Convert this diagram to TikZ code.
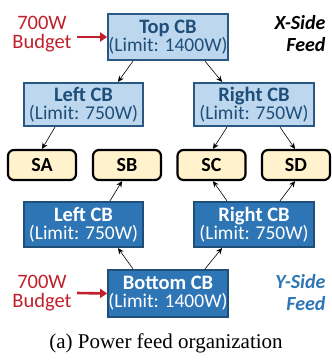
\documentclass[tikz,border=0pt]{standalone}
\usepackage{fontspec}
\setmainfont{Carlito}
\newfontfamily\capfont{Liberation Serif}
\usetikzlibrary{arrows.meta}
\definecolor{lightfill}{HTML}{BDD7EE}
\definecolor{cbborder}{HTML}{2B5783}
\definecolor{darkblue}{HTML}{1F4E79}
\definecolor{midblue}{HTML}{2E75B6}
\definecolor{budgetred}{HTML}{C0202A}
\definecolor{srvfill}{HTML}{FFF2CC}
\tikzset{
  cbbox/.style={draw=cbborder, line width=2.2pt, align=center, inner sep=0pt,
    minimum width=119.5pt, font=\fontsize{19.5}{18}\selectfont},
  cbx/.style={cbbox, fill=lightfill, text=darkblue},
  cby/.style={cbbox, fill=midblue, text=white, draw=darkblue},
  srv/.style={draw=black, line width=2.2pt, rounded corners=6pt, fill=srvfill,
    minimum width=68pt, minimum height=30pt, inner sep=0pt,
    font=\fontsize{20}{20}\selectfont\bfseries},
  conn/.style={-{Stealth[length=6pt,width=5.5pt]}, line width=0.6pt, black},
  budgetarrow/.style={-{Triangle[length=7pt,width=9pt]}, line width=2.6pt, budgetred},
  budgettext/.style={align=center, text=budgetred, font=\fontsize{20.5}{18.5}\selectfont},
  sidetext/.style={align=right, anchor=east, font=\fontsize{20}{22}\selectfont\bfseries\itshape}
}
\begin{document}
\begin{tikzpicture}[x=1pt,y=-1pt]
\useasboundingbox (0,0) rectangle (332,360);
% X side
\node[cbx, minimum height=46pt] (top) at (168,37) {{\fontsize{20.5}{18}\selectfont\bfseries Top CB}\\(Limit: 1400W)};
\node[cbx, minimum height=43pt] (xl) at (83.5,104.5) {{\fontsize{20.5}{18}\selectfont\bfseries Left CB}\\(Limit: 750W)};
\node[cbx, minimum height=43pt] (xr) at (254,104.5) {{\fontsize{20.5}{18}\selectfont\bfseries Right CB}\\(Limit: 750W)};
% servers
\node[srv] (sa) at (42,165) {SA};
\node[srv] (sb) at (127,165) {SB};
\node[srv] (sc) at (211.5,165) {SC};
\node[srv] (sd) at (296,165) {SD};
% Y side
\node[cby, minimum height=45pt] (yl) at (83.5,224.5) {{\fontsize{20.5}{18}\selectfont\bfseries Left CB}\\(Limit: 750W)};
\node[cby, minimum height=45pt] (yr) at (254,224.5) {{\fontsize{20.5}{18}\selectfont\bfseries Right CB}\\(Limit: 750W)};
\node[cby, minimum height=47pt] (bot) at (168,293.5) {{\fontsize{20.5}{18}\selectfont\bfseries Bottom CB}\\(Limit: 1400W)};
% connectors X
\draw[conn] ([xshift=-35pt]top.south) -- ([xshift=34.5pt]xl.north);
\draw[conn] ([xshift=37pt]top.south) -- ([xshift=-32pt]xr.north);
\draw[conn] ([xshift=-28.5pt]xl.south) -- (sa.north);
\draw[conn] ([xshift=-27pt]xr.south) -- ([xshift=1.5pt]sc.north);
\draw[conn] ([xshift=26pt]xr.south) -- ([xshift=-1pt]sd.north);
% connectors Y
\draw[conn] ([xshift=26.5pt]yl.north) -- ([xshift=-5pt]sb.south);
\draw[conn] ([xshift=-27pt]yr.north) -- ([xshift=1.5pt]sc.south);
\draw[conn] ([xshift=26pt]yr.north) -- ([xshift=-1pt]sd.south);
\draw[conn] ([xshift=-35pt]bot.north) -- ([xshift=34.5pt]yl.south);
\draw[conn] ([xshift=37pt]bot.north) -- ([xshift=-32pt]yr.south);
% budgets
\node[budgettext] (b1) at (42,34) {700W\\Budget};
\coordinate (a1) at (77,37);
\draw[budgetarrow] (a1) -- (top.west);
\node[budgettext] (b2) at (42,293) {700W\\Budget};
\coordinate (a2) at (77,293);
\draw[budgetarrow] (a2) -- (bot.west);
% side labels
\node[sidetext, text=black] (xs) at (329,34) {X-Side\\Feed};
\node[sidetext, text=midblue] (ys) at (329,293) {Y-Side\\Feed};
% caption
\node[font=\capfont\fontsize{21}{24}\selectfont] (cap) at (166,343) {(a) Power feed organization};
\end{tikzpicture}
\end{document}
